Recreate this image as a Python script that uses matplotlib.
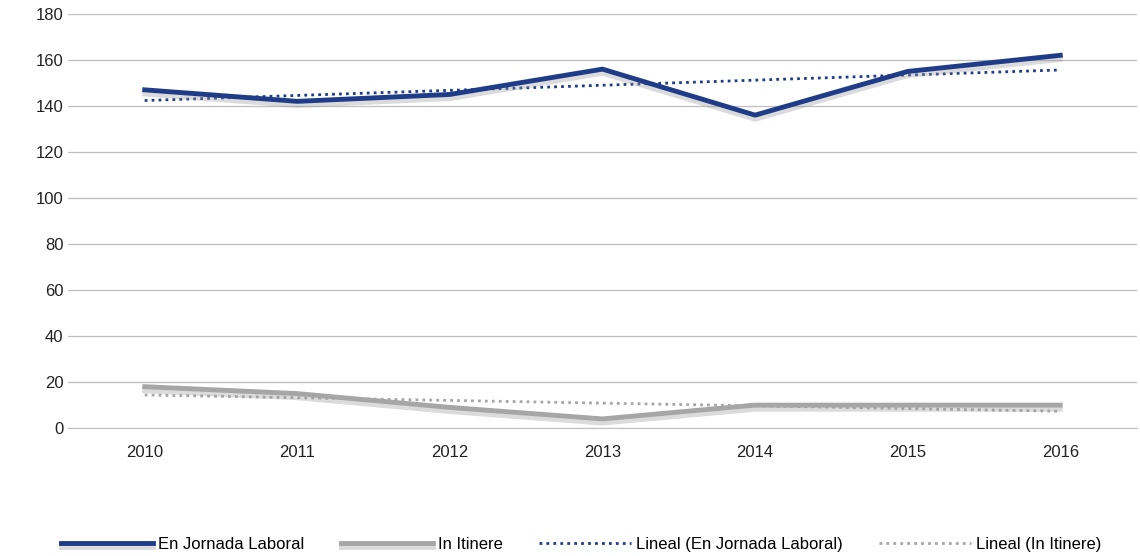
import numpy as np
import matplotlib.pyplot as plt
import matplotlib.patheffects as pe

years = ['2010', '2011', '2012', '2013', '2014', '2015', '2016']
jornada = [147, 142, 145, 156, 136, 155, 162]
itinere = [18, 15, 9, 4, 10, 10, 10]
yticks = [0, 20, 40, 60, 80, 100, 120, 140, 160, 180]

plt.rcParams['font.family'] = ['Liberation Sans', 'DejaVu Sans']

fig = plt.figure(figsize=(11.4, 5.56), dpi=100)
ax = fig.add_axes([0.06, 0.23, 0.937, 0.745])
x = np.arange(len(years))

shadow = [pe.SimpleLineShadow(offset=(0, -3), shadow_color='#999999', alpha=0.35), pe.Normal()]

ax.plot(x, jornada, color='#1f3c88', lw=3.5, label='En Jornada Laboral',
        path_effects=shadow, zorder=4)
ax.plot(x, itinere, color='#a6a6a6', lw=3.5, label='In Itinere',
        path_effects=shadow, zorder=4)

for ser, col, lab in [(jornada, '#1f3c88', 'Lineal (En Jornada Laboral)'),
                      (itinere, '#a6a6a6', 'Lineal (In Itinere)')]:
    k, b = np.polyfit(x, ser, 1)
    ax.plot(x, k * x + b, color=col, lw=2, ls=(0, (1, 1.5)), label=lab, zorder=3)

ax.set_xlim(-0.5, 6.5)
ax.set_ylim(0, 180)
ax.set_yticks(yticks)
ax.set_xticks(x)
ax.set_xticklabels(years)
ax.grid(axis='y', color='#bfbfbf', lw=0.9)
ax.set_axisbelow(True)
for s in ['top', 'right', 'left']:
    ax.spines[s].set_visible(False)
ax.spines['bottom'].set_color('#bfbfbf')
ax.tick_params(length=0, labelsize=12, colors='#222222')
ax.tick_params(axis='x', pad=12)

fig.legend(loc='lower center', bbox_to_anchor=(0.51, -0.02), ncol=4, frameon=False,
           fontsize=12, handlelength=5.5, columnspacing=2.2, handletextpad=0.3)
fig.savefig('out.png')
